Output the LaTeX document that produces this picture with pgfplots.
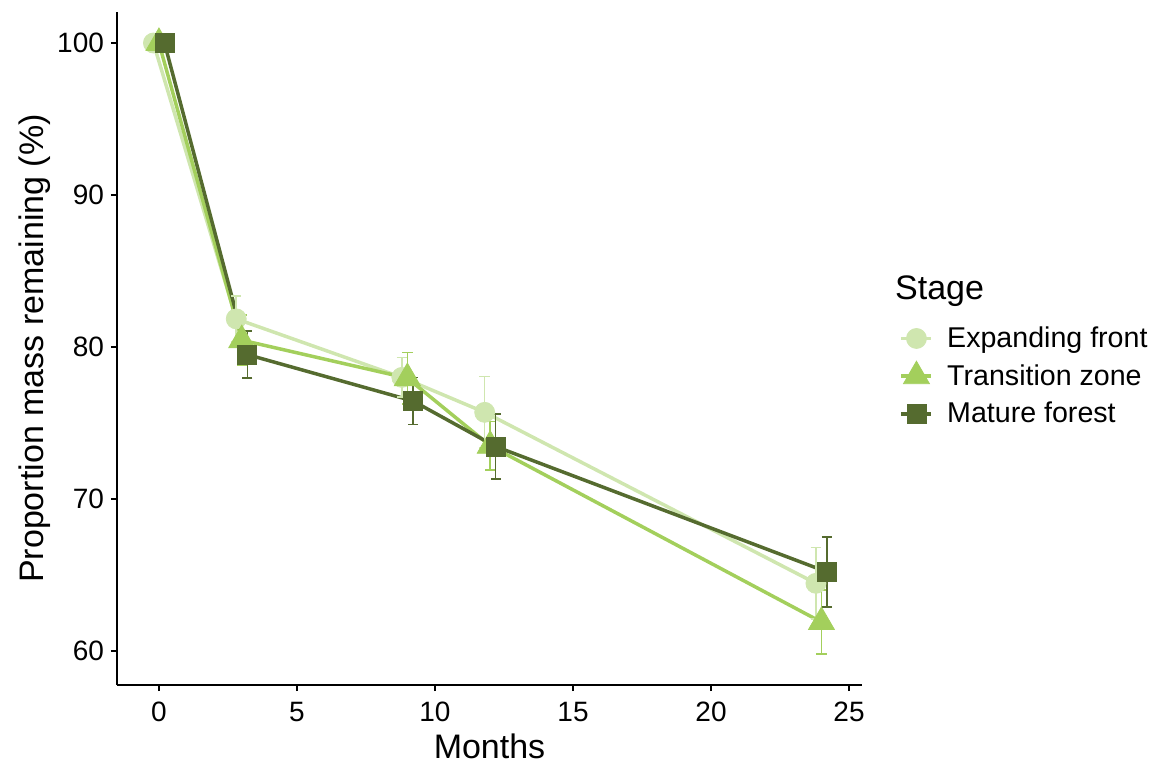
\documentclass[border=0pt]{standalone}
\usepackage{pgfplots}
\pgfplotsset{compat=1.18}
\usepackage{fontspec}
\setmainfont{Liberation Sans}

\definecolor{expfront}{RGB}{207,230,175}
\definecolor{transzone}{RGB}{163,207,92}
\definecolor{matforest}{RGB}{85,107,47}

% month, mean, standard error (points dodged around each sampling month)
\pgfplotstableread{
x     y      e
-0.2  100.0  0.0
2.8   81.85  1.5
8.8   78.0   1.3
11.8  75.7   2.35
23.8  64.45  2.35
}\expfronttab
\pgfplotstableread{
x     y      e
0.0   100.0  0.0
3.0   80.45  1.65
9.0   77.95  1.7
12.0  73.5   1.6
24.0  61.9   2.1
}\transzonetab
\pgfplotstableread{
x     y      e
0.2   100.0  0.0
3.2   79.5   1.55
9.2   76.45  1.55
12.2  73.45  2.15
24.2  65.2   2.3
}\matforesttab

\pgfplotsset{
  sebar/.style={forget plot, draw=none, mark=none,
    error bars/.cd, y dir=both, y explicit, error mark=-,
    error bar style={line width=0.75pt, draw=#1, solid},
    error mark options={mark size=2.6pt, line width=0.75pt, draw=#1, rotate=90}},
}

\begin{document}
\begin{tikzpicture}
\path (-58.5pt,-38.5pt) rectangle (521.5pt,342.5pt);
\begin{axis}[
  at={(0,0)}, anchor=south west,
  width=372.5pt, height=336.5pt, scale only axis,
  clip=false,
  xmin=-1.52, xmax=25.47, ymin=57.76, ymax=102.04,
  axis x line*=bottom, axis y line*=left,
  axis line style={line width=0.7pt, -},
  xtick={0,5,10,15,20,25}, ytick={60,70,80,90,100},
  tick align=outside, major tick length=3pt,
  tick style={line width=0.7pt, black},
  ticklabel style={font=\fontsize{14}{16}\selectfont, black},
  xticklabel style={yshift=-2pt},
  /pgf/number format/assume math mode=true,
  xlabel={Months}, ylabel={Proportion mass remaining (\%)},
  label style={font=\fontsize{17}{20}\selectfont},
  xlabel style={yshift=1pt},
  ylabel style={yshift=-3.5pt},
  legend style={draw=none, fill=none, at={(1.042,0.545)}, anchor=north west,
    font=\fontsize{14.3}{16}\selectfont, row sep=3pt,
    legend cell align=left,
    /tikz/every odd column/.append style={column sep=5pt}},
  legend image code/.code={
    \draw[#1, line width=1.75pt, mark=none] (0pt,0pt) -- (15pt,0pt);
    \path[#1, draw=none] plot coordinates {(7.5pt,0pt)};
  },
]
% connecting lines
\addplot[forget plot, expfront, line width=1.75pt, mark=none] table[x=x,y=y] {\expfronttab};
\addplot[forget plot, transzone, line width=1.75pt, mark=none] table[x=x,y=y] {\transzonetab};
\addplot[forget plot, matforest, line width=1.75pt, mark=none] table[x=x,y=y] {\matforesttab};
% point markers
\addplot[forget plot, only marks, mark=*, mark size=5pt, color=expfront] table[x=x,y=y] {\expfronttab};
\addplot[forget plot, only marks, mark=triangle*, mark size=7.5pt, color=transzone] table[x=x,y=y] {\transzonetab};
\addplot[forget plot, only marks, mark=square*, mark size=4.75pt, color=matforest] table[x=x,y=y] {\matforesttab};
% standard error bars
\addplot[sebar=expfront] table[x=x,y=y,y error=e] {\expfronttab};
\addplot[sebar=transzone] table[x=x,y=y,y error=e] {\transzonetab};
\addplot[sebar=matforest] table[x=x,y=y,y error=e] {\matforesttab};
% legend entries
\addlegendimage{expfront, mark=*, mark size=5pt}
\addlegendentry{Expanding front}
\addlegendimage{transzone, mark=triangle*, mark size=7.5pt}
\addlegendentry{Transition zone}
\addlegendimage{matforest, mark=square*, mark size=4.75pt}
\addlegendentry{Mature forest}
\node[anchor=west, font=\fontsize{17}{20}\selectfont, inner sep=0pt] at (rel axis cs:1.044,0.585) {Stage};
\end{axis}
\end{tikzpicture}
\end{document}
